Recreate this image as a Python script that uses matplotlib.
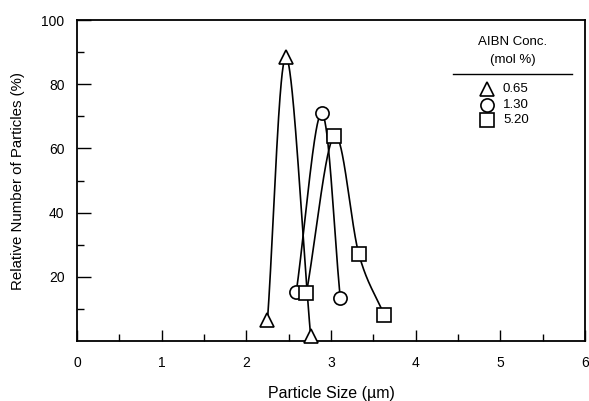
import numpy as np
import matplotlib
matplotlib.use("Agg")
import matplotlib.pyplot as plt
from matplotlib.lines import Line2D

plt.rcParams['font.family'] = ['Liberation Sans', 'DejaVu Sans']

# Data
conc_labels = ["0.65", "1.30", "5.20"]
markers = ["^", "o", "s"]
x_065 = [2.25, 2.47, 2.76]
y_065 = [6.5, 88.5, 1.5]
x_130 = [2.59, 2.89, 3.11]
y_130 = [15.3, 71.0, 13.4]
x_520 = [2.71, 3.04, 3.33, 3.63]
y_520 = [15.0, 64.0, 27.0, 8.0]

series = [(x_065, y_065), (x_130, y_130), (x_520, y_520)]


def catmull_rom(x, y, n=80):
    P = np.column_stack([x, y]).astype(float)
    k = len(P)
    M = np.zeros_like(P)
    M[0] = P[1] - P[0]
    M[-1] = P[-1] - P[-2]
    for i in range(1, k - 1):
        M[i] = (P[i + 1] - P[i - 1]) / 2
    out = []
    t = np.linspace(0, 1, n)[:, None]
    h00 = 2 * t**3 - 3 * t**2 + 1
    h10 = t**3 - 2 * t**2 + t
    h01 = -2 * t**3 + 3 * t**2
    h11 = t**3 - t**2
    for i in range(k - 1):
        seg = h00 * P[i] + h10 * M[i] + h01 * P[i + 1] + h11 * M[i + 1]
        out.append(seg)
    c = np.vstack(out)
    return c[:, 0], c[:, 1]


fig = plt.figure(figsize=(5.89, 4.01), dpi=100)
ax = fig.add_axes([0.1307, 0.1496, 0.9932 - 0.1307, 0.950 - 0.1496])

for (xs, ys), m in zip(series, markers):
    sx, sy = catmull_rom(xs, ys)
    ax.plot(sx, sy, color='black', lw=1.2, zorder=2)
    ms = 10.5 if m == '^' else 9.5
    ax.plot(xs, ys, linestyle='none', marker=m, ms=ms, mfc='white',
            mec='black', mew=1.2, zorder=3, clip_on=False)

ax.set_xlim(0, 6)
ax.set_ylim(0, 100)
ax.set_xticks(range(0, 7))
ax.set_xticks(np.arange(0.5, 6, 1.0), minor=True)
ax.set_yticks([20, 40, 60, 80, 100])
ax.set_yticks([10, 30, 50, 70, 90], minor=True)
ax.tick_params(axis='both', which='both', direction='in', labelsize=10,
               width=1.0)
ax.tick_params(axis='x', which='major', length=8, pad=11)
ax.tick_params(axis='x', which='minor', length=5)
ax.tick_params(axis='y', which='major', length=10, pad=9)
ax.tick_params(axis='y', which='minor', length=5)
for s in ax.spines.values():
    s.set_linewidth(1.3)

ax.set_xlabel("Particle Size (\u00b5m)", fontsize=11.5, labelpad=11)
ax.set_ylabel("Relative Number of Particles (%)", fontsize=10.8, labelpad=12)

# Legend drawn manually
tr = ax.transAxes
def ax_x(px):
    return (px - 77) / (585 - 77)
def ax_y(py):
    return (341 - py) / (341 - 20)

ax.text(ax_x(513), ax_y(42), "AIBN Conc.", transform=tr, ha='center',
        va='center', fontsize=9.5)
ax.text(ax_x(513), ax_y(60), "(mol %)", transform=tr, ha='center',
        va='center', fontsize=9.5)
ax.add_line(Line2D([ax_x(453), ax_x(572)], [ax_y(74), ax_y(74)],
                   transform=tr, color='black', lw=1.0))
for i, (lab, m) in enumerate(zip(conc_labels, markers)):
    yy = ax_y(89 + i * 15.5)
    ms = 10.5 if m == '^' else 9.5
    ax.plot([ax_x(487)], [yy], transform=tr, marker=m, ms=ms, mfc='white',
            mec='black', mew=1.2, linestyle='none')
    ax.text(ax_x(503), yy, lab, transform=tr, ha='left', va='center',
            fontsize=9.5)

fig.savefig("out.png", dpi=100)
